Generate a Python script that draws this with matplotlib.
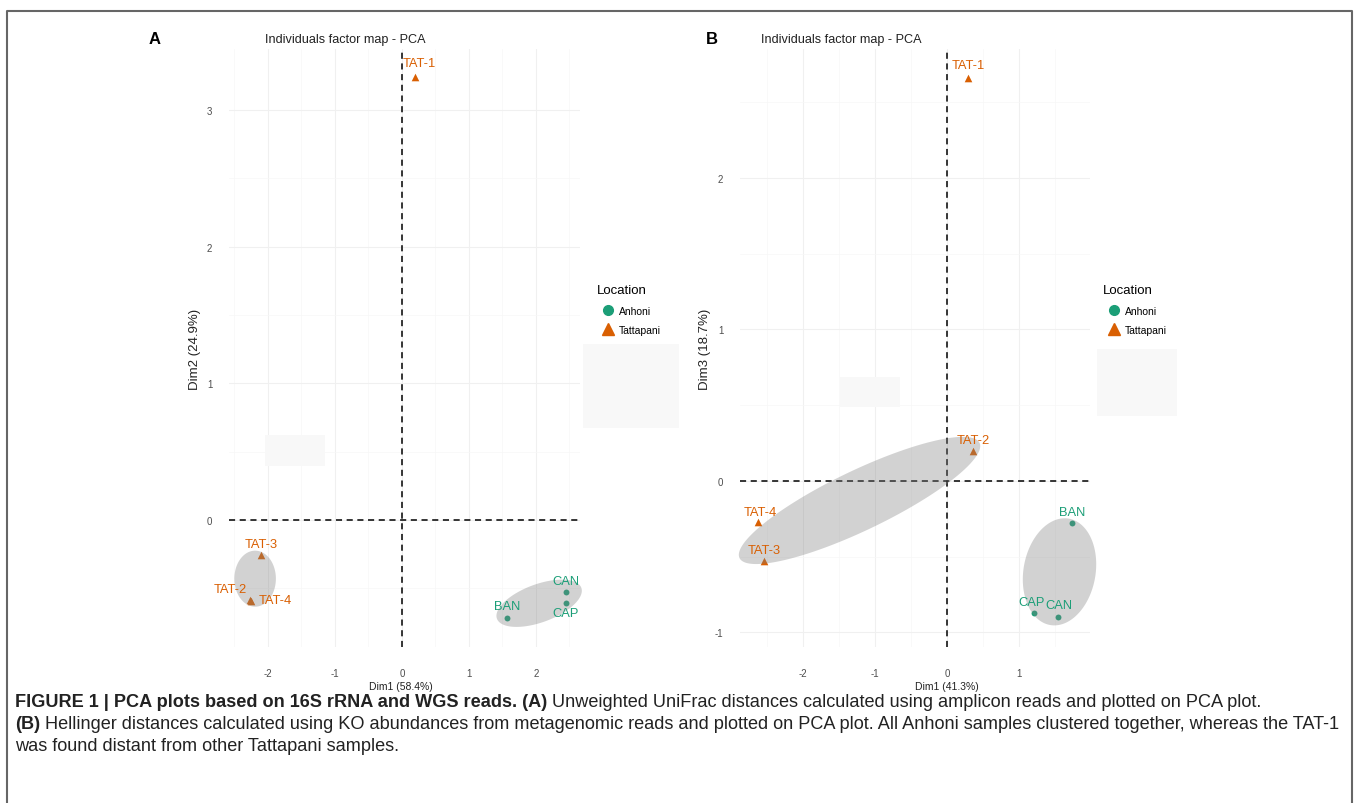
import matplotlib
matplotlib.use('Agg')
import matplotlib.pyplot as plt
import numpy as np
from matplotlib.lines import Line2D
from matplotlib.patches import Rectangle

plt.rcParams['font.family'] = ['Liberation Sans', 'DejaVu Sans']
plt.rcParams['axes.unicode_minus'] = False

# 样本与分组
samples = ['TAT-1', 'TAT-2', 'TAT-3', 'TAT-4', 'BAN', 'CAN', 'CAP']
location = ['Tattapani', 'Tattapani', 'Tattapani', 'Tattapani', 'Anhoni', 'Anhoni', 'Anhoni']

# (A) 16S rRNA: Dim1 / Dim2
a_dim1 = [0.19, -2.27, -2.10, -2.25, 1.57, 2.45, 2.45]
a_dim2 = [3.24, -0.585, -0.26, -0.59, -0.72, -0.53, -0.61]
# (B) WGS: Dim1 / Dim3
b_dim1 = [0.29, 0.36, -2.54, -2.62, 1.74, 1.54, 1.21]
b_dim3 = [2.66, 0.20, -0.53, -0.27, -0.28, -0.90, -0.87]

# ellipses: centre x, centre y, semi-axis 1 (dx, dy), semi-axis 2 (dx, dy)
a_ell = {'Tattapani': [-2.19, -0.43, 0.31, 0.0, 0.0, 0.205],
         'Anhoni': [2.05, -0.61, 0.63, 0.113, -0.097, 0.131]}
b_ell = {'Tattapani': [-1.215, -0.129, 1.667, 0.380, -0.179, 0.178],
         'Anhoni': [1.5625, -0.60, 0.13, 0.351, 0.493, -0.041]}

colors = {'Anhoni': '#1B9E77', 'Tattapani': '#D95F02'}
markers = {'Anhoni': 'o', 'Tattapani': '^'}

# label offsets (pixels)
a_off = [(5, 14), (-19, 11), (0, 11), (24, 1), (0, 12), (0, 11), (0, -10)]
b_off = [(0, 13), (0, 11), (0, 11), (2, 10), (0, 11), (1, 12), (-3, 11)]

W, H = 1358, 804
fig = plt.figure(figsize=(W / 100, H / 100), dpi=100)


def px(x0, y0, w, h):
    return [x0 / W, 1 - (y0 + h) / H, w / W, h / H]


def panel(ax, d1, d2, ells, offs, xlim, ylim, xticks, yticks, xlab, ylab):
    for s in ax.spines.values():
        s.set_visible(False)
    ax.set_xticks(xticks)
    ax.set_yticks(yticks)
    ax.set_xticks(np.arange(xticks[0] - 0.5, xticks[-1] + 1, 1), minor=True)
    ax.set_yticks(np.arange(yticks[0] - 0.5, yticks[-1] + 1, 1), minor=True)
    ax.set_xlim(xlim)
    ax.set_ylim(ylim)
    ax.grid(which='major', color='#f0f0f0', lw=0.8)
    ax.grid(which='minor', color='#f7f7f7', lw=0.5)
    ax.tick_params(which='both', length=0, labelsize=7, labelcolor='#4d4d4d')
    ax.tick_params(axis='x', pad=15)
    ax.tick_params(axis='y', pad=12)
    ax.axhline(0, color='black', ls=(0, (4, 3)), lw=1.1, zorder=2)
    ax.axvline(0, color='black', ls=(0, (4, 3)), lw=1.1, zorder=2)
    for i, s in enumerate(samples):
        g = location[i]
        ax.scatter(d1[i], d2[i], marker=markers[g], color=colors[g],
                   s=30 if g == 'Tattapani' else 18, lw=0, zorder=3, clip_on=False)
    t = np.linspace(0, 2 * np.pi, 200)
    for g, e in ells.items():
        ex = e[0] + e[2] * np.cos(t) + e[4] * np.sin(t)
        ey = e[1] + e[3] * np.cos(t) + e[5] * np.sin(t)
        ax.fill(ex, ey, color='#808080', alpha=0.35, lw=0, zorder=4, clip_on=False)
    for i, s in enumerate(samples):
        ax.annotate(s, (d1[i], d2[i]), xytext=offs[i], textcoords='offset pixels',
                    ha='center', va='center', fontsize=9.3,
                    color=colors[location[i]], zorder=5)
    ax.set_xlabel(xlab, fontsize=7.5, color='#222222', va='center')
    ax.set_ylabel(ylab, fontsize=9.5, color='#222222', va='center')


axA = fig.add_axes(px(229, 50, 351, 598))
panel(axA, a_dim1, a_dim2, a_ell, a_off, (-2.58, 2.66), (-0.93, 3.446),
      [-2, -1, 0, 1, 2], [0, 1, 2, 3], 'Dim1 (58.4%)', 'Dim2 (24.9%)')
axA.xaxis.set_label_coords((401 - 229) / 351, (648 - 687) / 598)
axA.yaxis.set_label_coords((195 - 229) / 351, 0.5)

axB = fig.add_axes(px(740, 50, 350, 598))
panel(axB, b_dim1, b_dim3, b_ell, b_off, (-2.875, 1.986), (-1.096, 2.85),
      [-2, -1, 0, 1], [-1, 0, 1, 2], 'Dim1 (41.3%)', 'Dim3 (18.7%)')
axB.xaxis.set_label_coords((947 - 740) / 350, (648 - 687) / 598)
axB.yaxis.set_label_coords((705 - 740) / 350, 0.5)

# faint boxes
for x0, y0, w, h in [(583, 345, 96, 84), (1097, 350, 80, 67), (265, 436, 60, 31), (840, 378, 60, 30)]:
    fig.patches.append(Rectangle((x0 / W, 1 - (y0 + h) / H), w / W, h / H,
                                 transform=fig.transFigure, color='#f8f8f8', lw=0, zorder=0))

# titles
for x, letter in [(155, 'A'), (712, 'B')]:
    fig.text(x / W, 1 - 40 / H, letter, fontsize=12, fontweight='bold', ha='center', va='center')
for x in [265, 761]:
    fig.text(x / W, 1 - 40 / H, 'Individuals factor map - PCA', fontsize=9.1,
             ha='left', va='center', color='#222222')

# legends
handles = [Line2D([], [], marker='o', ls='', color=colors['Anhoni'], markersize=7),
           Line2D([], [], marker='^', ls='', color=colors['Tattapani'], markersize=8)]
for x in [592, 1098]:
    fig.legend(handles, ['Anhoni', 'Tattapani'], title='Location', loc='upper left',
               bbox_to_anchor=(x / W, 1 - 280 / H), frameon=False, fontsize=7.5,
               title_fontsize=9.5, handlelength=2.0, handletextpad=0.05,
               labelspacing=0.9, borderpad=0, alignment='left')

# caption
r = fig.canvas.get_renderer()


def rich_line(x, y, parts, size=13.1):
    x = x / W
    for txt, weight in parts:
        tt = fig.text(x, 1 - y / H, txt, fontsize=size, fontweight=weight,
                      ha='left', va='baseline', color='#222222')
        x += tt.get_window_extent(renderer=r).width / W


rich_line(15, 707, [('FIGURE 1 | PCA plots based on 16S rRNA and WGS reads. (A)', 'bold'),
                    (' Unweighted UniFrac distances calculated using amplicon reads and plotted on PCA plot.', 'normal')])
rich_line(15, 729, [('(B)', 'bold'),
                    (' Hellinger distances calculated using KO abundances from metagenomic reads and plotted on PCA plot. '
                     'All Anhoni samples clustered together, whereas the TAT-1', 'normal')])
rich_line(15, 751, [('was found distant from other Tattapani samples.', 'normal')])

# outer frame
fig.add_artist(Line2D([7 / W, 7 / W, 1352 / W, 1352 / W], [0, 1 - 12 / H, 1 - 12 / H, 0],
                      transform=fig.transFigure, color='#666666', lw=1.5))

plt.savefig('out.png', dpi=100)
